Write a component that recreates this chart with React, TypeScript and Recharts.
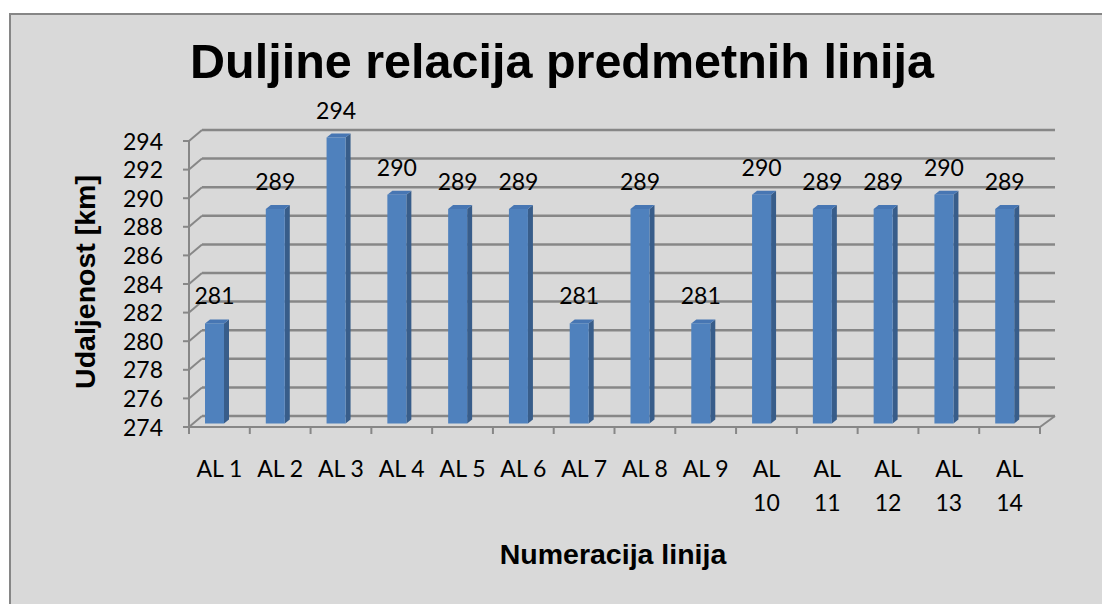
import React from 'react';
import { BarChart, Bar, XAxis, YAxis, CartesianGrid, Customized } from 'recharts';

const categories = ['AL 1', 'AL 2', 'AL 3', 'AL 4', 'AL 5', 'AL 6', 'AL 7', 'AL 8', 'AL 9', 'AL 10', 'AL 11', 'AL 12', 'AL 13', 'AL 14'];
const lengths = [281, 289, 294, 290, 289, 289, 281, 289, 281, 290, 289, 289, 290, 289];
const yTicks = [274, 276, 278, 280, 282, 284, 286, 288, 290, 292, 294];

const titleText = 'Duljine relacija predmetnih linija';
const xTitle = 'Numeracija linija';
const yTitle = 'Udaljenost [km]';

const data = categories.map((c, i) => ({ name: c, value: lengths[i] }));

const GRID = '#878787';
const LABEL_FONT = 'Lato, "Open Sans", sans-serif';
const TITLE_FONT = '"Liberation Sans", Arial, sans-serif';
const NUM_SIZE = 23;

const DEPTH_X = 13;
const DEPTH_Y = 11;

const Bar3D = (props: any) => {
  const { x, y, width, height, payload } = props;
  const fx = x - 5;
  const fy = y - 3.5;
  const sx = 5;
  const sy = 4;
  const front = '#4F81BD';
  const side = '#385D8A';
  const top = '#4776B3';
  return (
    <g>
      <polygon
        points={`${fx + width},${fy} ${fx + width + sx},${fy - sy} ${fx + width + sx},${fy + height - sy} ${fx + width},${fy + height}`}
        fill={side}
      />
      <polygon
        points={`${fx},${fy} ${fx + sx},${fy - sy} ${fx + width + sx},${fy - sy} ${fx + width},${fy}`}
        fill={top}
      />
      <rect x={fx} y={fy} width={width} height={height} fill={front} />
      <text
        x={fx + width / 2}
        y={fy - 19}
        textAnchor="middle"
        fontFamily={LABEL_FONT}
        fontSize={NUM_SIZE}
        fill="#000"
      >
        {payload.value}
      </text>
    </g>
  );
};

const GridLine = (p: any) => {
  const { x1, y1, x2 } = p;
  const isBottom = p.index === 0 || Math.abs(y1 - 427) < 2;
  return (
    <g key={p.key}>
      <line x1={x1} y1={y1} x2={x1 + DEPTH_X} y2={y1 - DEPTH_Y} stroke={GRID} strokeWidth={2} />
      <line x1={x1 + DEPTH_X} y1={y1 - DEPTH_Y} x2={x2 + DEPTH_X + 2} y2={y1 - DEPTH_Y} stroke={GRID} strokeWidth={2.5} />
      {isBottom ? (
        <line x1={x2} y1={y1} x2={x2 + DEPTH_X + 2} y2={y1 - DEPTH_Y} stroke={GRID} strokeWidth={2} />
      ) : null}
    </g>
  );
};

const XTick = (props: any) => {
  const { x, y, payload, index, visibleTicksCount } = props;
  const half = payload && payload.offset ? payload.offset : 30.4;
  const label: string = payload.value;
  const lines = label.length > 4 ? label.split(' ') : [label];
  const isLast = index === (visibleTicksCount ?? categories.length) - 1;
  return (
    <g>
      <line x1={x - half} y1={y} x2={x - half} y2={y + 7} stroke={GRID} strokeWidth={2} />
      {isLast ? <line x1={x + half} y1={y} x2={x + half} y2={y + 7} stroke={GRID} strokeWidth={2} /> : null}
      {lines.map((ln, i) => (
        <text
          key={i}
          x={x}
          y={y + 50 + i * 34}
          textAnchor="middle"
          fontFamily={LABEL_FONT}
          fontSize={NUM_SIZE}
          fill="#000"
        >
          {ln}
        </text>
      ))}
    </g>
  );
};

const YTick = (props: any) => {
  const { x, y, payload } = props;
  return (
    <text x={x} y={y + 8.5} textAnchor="end" fontFamily={LABEL_FONT} fontSize={NUM_SIZE} fill="#000">
      {payload.value}
    </text>
  );
};

const Titles = () => (
  <g>
    <text x={562} y={78} textAnchor="middle" fontFamily={TITLE_FONT} fontWeight="bold" fontSize={48.5} fill="#000">
      {titleText}
    </text>
    <text x={613} y={564} textAnchor="middle" fontFamily={TITLE_FONT} fontWeight="bold" fontSize={28.5} fill="#000">
      {xTitle}
    </text>
    <text
      x={95}
      y={282}
      textAnchor="middle"
      fontFamily={TITLE_FONT}
      fontWeight="bold"
      fontSize={28.5}
      fill="#000"
      transform="rotate(-90 95 282)"
    >
      {yTitle}
    </text>
  </g>
);

export default function App() {
  return (
    <div style={{ position: 'absolute', left: 0, top: 0, width: 1102, height: 604, background: '#fff', overflow: 'hidden' }}>
      <div
        style={{
          position: 'absolute',
          left: 9,
          top: 13,
          width: 1102,
          height: 604,
          background: '#D9D9D9',
          borderLeft: '2px solid #868686',
          borderTop: '2px solid #868686',
        }}
      />
      <div style={{ position: 'absolute', left: 0, top: 0 }}>
        <BarChart
          width={1102}
          height={604}
          data={data}
          margin={{ top: 141, right: 62, bottom: 117, left: 129 }}
          barSize={19}
        >
          <CartesianGrid horizontal={GridLine as any} vertical={false} />
          <XAxis
            dataKey="name"
            type="category"
            height={60}
            interval={0}
            tickLine={false}
            tickSize={0}
            tickMargin={0}
            axisLine={{ stroke: GRID, strokeWidth: 2 }}
            tick={<XTick />}
          />
          <YAxis
            type="number"
            domain={[274, 294]}
            ticks={yTicks}
            interval={0}
            width={60}
            tickSize={6}
            tickMargin={20}
            axisLine={{ stroke: GRID, strokeWidth: 2 }}
            tickLine={{ stroke: GRID, strokeWidth: 2 }}
            tick={<YTick />}
          />
          <Bar dataKey="value" isAnimationActive={false} shape={<Bar3D />} />
          <Customized component={Titles} />
        </BarChart>
      </div>
    </div>
  );
}
